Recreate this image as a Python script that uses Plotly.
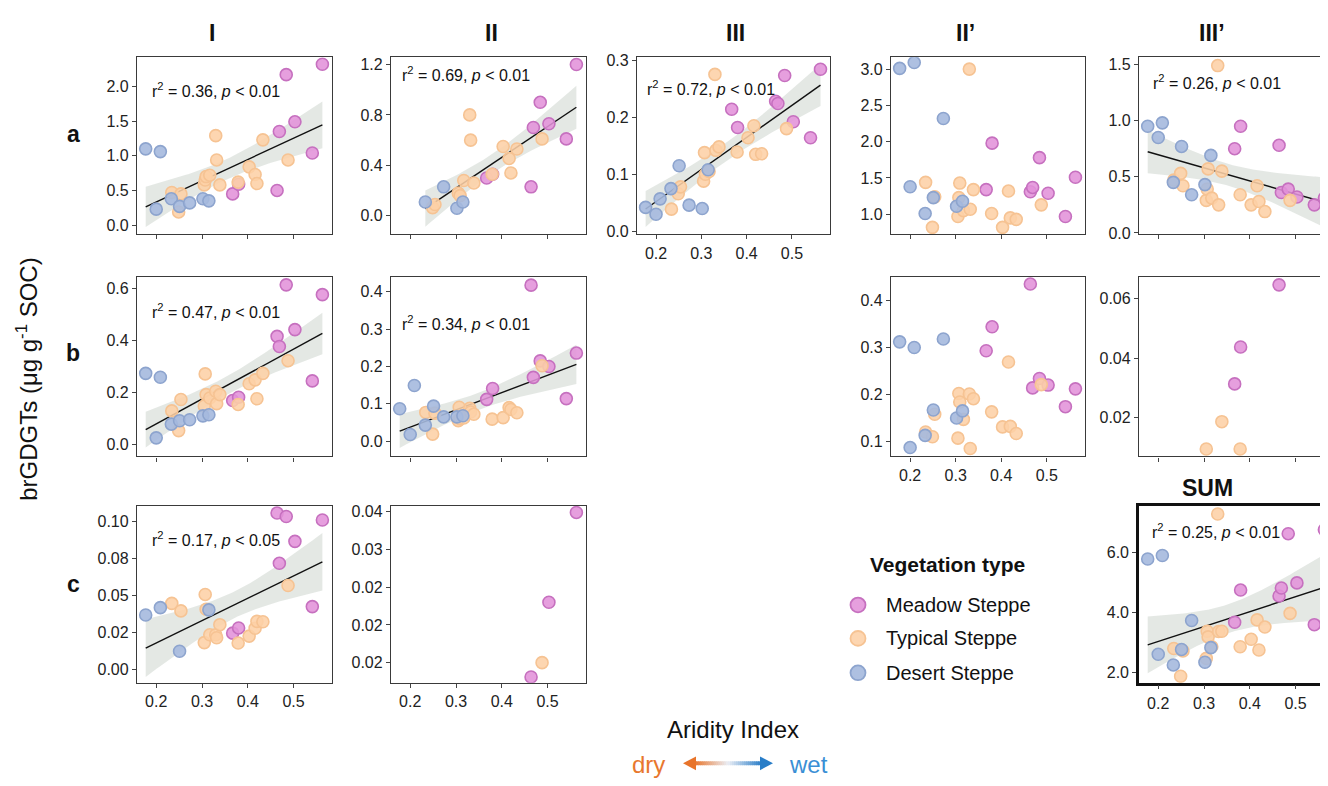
import numpy as np
import plotly.graph_objects as go

N = None
# ---------------- data ----------------
# aridity index of the sampling sites, per vegetation type
AI_DESERT = [0.177, 0.200, 0.209, 0.233, 0.251, 0.273, 0.302, 0.315]
AI_TYPICAL = [0.234, 0.249, 0.254, 0.305, 0.307, 0.309, 0.317, 0.330,
              0.332, 0.339, 0.379, 0.403, 0.416, 0.420, 0.433, 0.488]
AI_MEADOW = [0.367, 0.380, 0.464, 0.469, 0.484, 0.503, 0.541, 0.563]

X_TICKS = [0.2, 0.3, 0.4, 0.5]
X_TICK_LABELS = ["0.2", "0.3", "0.4", "0.5"]

# brGDGT concentrations (ug g-1 SOC)
aI_desert = [1.10, 0.23, 1.06, 0.38, 0.27, 0.32, 0.38, 0.35]
aI_typical = [0.47, 0.19, 0.45, 0.58, 0.65, 0.70, 0.72, 1.29, 0.94, 0.58, 0.62, 0.84, 0.73, 0.60, 1.23, 0.94]
aI_meadow = [0.45, 0.59, 0.50, 1.35, 2.17, 1.49, 1.04, 2.32]

aII_desert = [N, N, N, 0.11, N, 0.23, 0.06, 0.11]
aII_typical = [N, 0.065, 0.09, 0.18, N, 0.16, 0.28, 0.80, 0.60, 0.26, 0.33, 0.55, 0.455, 0.34, 0.53, 0.61]
aII_meadow = [0.30, 0.33, 0.23, 0.70, 0.90, 0.73, 0.61, 1.20]

aIII_desert = [0.042, 0.030, 0.057, 0.075, 0.115, 0.046, 0.040, 0.108]
aIII_typical = [0.039, 0.066, 0.078, 0.088, 0.138, 0.100, 0.105, 0.275, 0.142, 0.148, 0.139, 0.164, 0.185, 0.135, 0.136, 0.180]
aIII_meadow = [0.214, 0.182, 0.228, 0.224, 0.273, 0.192, 0.164, 0.284]

aIIp_desert = [3.01, 1.38, 3.09, 1.01, 1.23, 2.32, 1.11, 1.18]
aIIp_typical = [1.44, 0.82, 1.24, 0.97, 1.23, 1.43, 1.05, 3.00, 1.07, 1.34, 1.01, 0.82, 1.32, 0.95, 0.93, 1.13]
aIIp_meadow = [1.34, 1.98, 1.31, 1.37, 1.78, 1.29, 0.97, 1.51]

aIIIp_desert = [0.95, 0.85, 0.98, 0.45, 0.77, 0.34, 0.43, 0.69]
aIIIp_typical = [0.47, 0.53, 0.42, 0.29, 0.39, 0.57, 0.31, 1.49, 0.25, 0.55, 0.34, 0.25, 0.42, 0.28, 0.19, 0.29]
aIIIp_meadow = [0.75, 0.95, 0.78, 0.36, 0.39, 0.32, 0.25, 0.31]

bI_desert = [0.273, 0.024, 0.258, 0.077, 0.090, 0.094, 0.109, 0.113]
bI_typical = [0.128, 0.052, 0.172, 0.147, 0.271, 0.191, 0.178, 0.204, 0.156, 0.191, 0.153, 0.233, 0.248, 0.175, 0.273, 0.322]
bI_meadow = [0.168, 0.181, 0.416, 0.377, 0.615, 0.442, 0.244, 0.577]

bII_desert = [0.087, 0.018, 0.149, 0.043, 0.094, 0.065, 0.065, 0.068]
bII_typical = [0.077, 0.019, 0.075, 0.055, 0.091, 0.060, 0.062, 0.088, 0.078, 0.072, 0.059, 0.063, 0.090, 0.085, 0.076, 0.202]
bII_meadow = [0.112, 0.141, 0.418, 0.171, 0.215, 0.200, 0.114, 0.236]

bIIp_desert = [0.312, 0.087, 0.300, 0.113, 0.167, 0.318, 0.150, 0.165]
bIIp_typical = [0.120, 0.110, 0.158, 0.107, 0.202, 0.184, 0.147, 0.201, 0.085, 0.191, 0.163, 0.131, 0.269, 0.132, 0.117, 0.221]
bIIp_meadow = [0.293, 0.344, 0.435, 0.214, 0.234, 0.220, 0.174, 0.212]

bIIIp_desert = [N] * 8
bIIIp_typical = [N, N, N, 0.0094, N, N, N, N, N, 0.0186, 0.0094, N, N, N, N, N]
bIIIp_meadow = [0.0313, 0.0437, 0.0646, N, N, N, N, N]

cI_desert = [0.037, N, 0.042, N, 0.0126, N, N, 0.0405]
cI_typical = [0.0449, N, 0.0398, 0.0184, 0.0509, 0.0409, 0.0237, 0.0237, 0.0217, 0.0305, 0.0181, 0.0228, 0.0281, 0.0327, 0.0325, 0.0569]
cI_meadow = [0.0248, 0.0283, 0.1058, 0.0719, 0.1035, 0.0867, 0.0427, 0.1011]

cII_desert = [N] * 8
cII_typical = [N] * 15 + [0.0200]
cII_meadow = [N, N, 0.0181, N, N, 0.0280, N, 0.0399]

sum_desert = [5.79, 2.60, 5.91, 2.24, 2.76, 3.73, 2.33, 2.82]
sum_typical = [2.79, 1.86, 2.71, 2.46, 3.37, 3.18, 2.85, 7.30, 3.36, 3.37, 2.85, 3.10, 3.75, 2.74, 3.51, 3.97]
sum_meadow = [3.67, 4.75, 4.55, 4.82, 6.64, 4.99, 3.59, 6.77]

# y tick values / labels per panel
aI_ticks = [0.0, 0.5, 1.0, 1.5, 2.0]; aI_labels = ["0.0", "0.5", "1.0", "1.5", "2.0"]
aII_ticks = [0.0, 0.4, 0.8, 1.2]; aII_labels = ["0.0", "0.4", "0.8", "1.2"]
aIII_ticks = [0.0, 0.1, 0.2, 0.3]; aIII_labels = ["0.0", "0.1", "0.2", "0.3"]
aIIp_ticks = [1.0, 1.5, 2.0, 2.5, 3.0]; aIIp_labels = ["1.0", "1.5", "2.0", "2.5", "3.0"]
aIIIp_ticks = [0.0, 0.5, 1.0, 1.5]; aIIIp_labels = ["0.0", "0.5", "1.0", "1.5"]
bI_ticks = [0.0, 0.2, 0.4, 0.6]; bI_labels = ["0.0", "0.2", "0.4", "0.6"]
bII_ticks = [0.0, 0.1, 0.2, 0.3, 0.4]; bII_labels = ["0.0", "0.1", "0.2", "0.3", "0.4"]
bIIp_ticks = [0.1, 0.2, 0.3, 0.4]; bIIp_labels = ["0.1", "0.2", "0.3", "0.4"]
bIIIp_ticks = [0.02, 0.04, 0.06]; bIIIp_labels = ["0.02", "0.04", "0.06"]
cI_ticks = [0.0, 0.025, 0.05, 0.075, 0.1]; cI_labels = ["0.00", "0.02", "0.05", "0.08", "0.10"]
cII_ticks = [0.02, 0.025, 0.03, 0.035, 0.04]; cII_labels = ["0.02", "0.02", "0.02", "0.03", "0.04"]
sum_ticks = [2.0, 4.0, 6.0]; sum_labels = ["2.0", "4.0", "6.0"]

# ---------------- layout helpers ----------------
OFF = 8  # the page body margin
W, H = 1328 - OFF, 786 - OFF
def px(x): return (x - OFF) / W
def py(y): return 1 - (y - OFF) / H

COL = {"I": (137, 332), "II": (391, 586), "III": (637, 830),
       "IIp": (891, 1085), "IIIp": (1139, 1328)}
ROW = {"a": (52, 232), "b": (275, 458), "c": (508, 688)}
X_RANGE = [0.158, 0.584]
X_RANGE_CUT = [0.158, 0.158 + (1328 - 1139) / (195 / (0.584 - 0.158))]

panels = [
    dict(col="I", row="a", d=aI_desert, t=aI_typical, m=aI_meadow, yr=[-0.132, 2.421], tv=aI_ticks, tt=aI_labels,
         xl=False, r2="0.36", p="0.01", txt=(150, 85)),
    dict(col="II", row="a", d=aII_desert, t=aII_typical, m=aII_meadow, yr=[-0.146, 1.257], tv=aII_ticks, tt=aII_labels,
         xl=False, r2="0.69", p="0.01", txt=(400, 69)),
    dict(col="III", row="a", d=aIII_desert, t=aIII_typical, m=aIII_meadow, yr=[-0.005, 0.305], tv=aIII_ticks, tt=aIII_labels,
         xl=True, r2="0.72", p="0.01", txt=(645, 83)),
    dict(col="IIp", row="a", d=aIIp_desert, t=aIIp_typical, m=aIIp_meadow, yr=[0.725, 3.163], tv=aIIp_ticks, tt=aIIp_labels,
         xl=False, r2=None),
    dict(col="IIIp", row="a", d=aIIIp_desert, t=aIIIp_typical, m=aIIIp_meadow, yr=[-0.012, 1.564], tv=aIIIp_ticks, tt=aIIIp_labels,
         xl=False, r2="0.26", p="0.01", txt=(1151, 77)),
    dict(col="I", row="b", d=bI_desert, t=bI_typical, m=bI_meadow, yr=[-0.048, 0.647], tv=bI_ticks, tt=bI_labels,
         xl=False, r2="0.47", p="0.01", txt=(150, 310)),
    dict(col="II", row="b", d=bII_desert, t=bII_typical, m=bII_meadow, yr=[-0.041, 0.441], tv=bII_ticks, tt=bII_labels,
         xl=False, r2="0.34", p="0.01", txt=(400, 322)),
    dict(col="IIp", row="b", d=bIIp_desert, t=bIIp_typical, m=bIIp_meadow, yr=[0.068, 0.451], tv=bIIp_ticks, tt=bIIp_labels,
         xl=True, r2=None),
    dict(col="IIIp", row="b", d=bIIIp_desert, t=bIIIp_typical, m=bIIIp_meadow, yr=[0.0069, 0.0674], tv=bIIIp_ticks, tt=bIIIp_labels,
         xl=False, r2=None),
    dict(col="I", row="c", d=cI_desert, t=cI_typical, m=cI_meadow, yr=[-0.0086, 0.1108], tv=cI_ticks, tt=cI_labels,
         xl=True, r2="0.17", p="0.05", txt=(150, 542)),
    dict(col="II", row="c", d=cII_desert, t=cII_typical, m=cII_meadow, yr=[0.01735, 0.0408], tv=cII_ticks, tt=cII_labels,
         xl=True, r2=None),
    dict(col="IIIp", row="c", d=sum_desert, t=sum_typical, m=sum_meadow, yr=[1.647, 7.58], tv=sum_ticks, tt=sum_labels,
         xl=True, r2="0.25", p="0.01", txt=(1150, 534), bold=True),
]

STYLE = {
    "meadow": dict(fill="rgba(226,146,218,0.88)", line="#C670BF"),
    "typical": dict(fill="rgba(253,208,166,0.88)", line="#F6C393"),
    "desert": dict(fill="rgba(165,185,222,0.90)", line="#8DA4CE"),
}
FONT = "Arial, Liberation Sans, sans-serif"

def fit_band(xs, ys):
    x = np.array(xs, float); y = np.array(ys, float)
    n = len(x)
    b, a = np.polyfit(x, y, 1)
    xg = np.linspace(x.min(), x.max(), 80)
    yg = a + b * xg
    resid = y - (a + b * x)
    s = np.sqrt(np.sum(resid ** 2) / (n - 2))
    sxx = np.sum((x - x.mean()) ** 2)
    t = 1.96 + 2.4 / (n - 2)
    se = s * np.sqrt(1 / n + (xg - x.mean()) ** 2 / sxx)
    return xg, yg, yg - t * se, yg + t * se

fig = go.Figure()
layout = dict(width=W, height=H, margin=dict(l=0, r=0, t=0, b=0), autosize=False,
              paper_bgcolor="white", plot_bgcolor="white", showlegend=False,
              font=dict(family=FONT, color="#222"))
annotations = []
shapes = []

for i, p in enumerate(panels, start=1):
    xa = "x" if i == 1 else f"x{i}"
    ya = "y" if i == 1 else f"y{i}"
    x0, x1 = COL[p["col"]]
    y0, y1 = ROW[p["row"]]
    cut = p["col"] == "IIIp"
    lw = 2.6 if p.get("bold") else 1.3
    lc = "#111" if p.get("bold") else "#3a3a3a"
    layout["xaxis" if i == 1 else f"xaxis{i}"] = dict(
        domain=[px(x0), min(px(x1), 1.0)], range=X_RANGE_CUT if cut else X_RANGE, anchor=ya,
        showgrid=False, zeroline=False, showline=True, linecolor=lc, linewidth=lw, mirror=True,
        ticks="outside", ticklen=4, tickcolor="#444", tickvals=X_TICKS, ticktext=X_TICK_LABELS,
        showticklabels=p["xl"], tickfont=dict(size=16, family=FONT, color="#222"))
    layout["yaxis" if i == 1 else f"yaxis{i}"] = dict(
        domain=[py(y1), py(y0)], range=p["yr"], anchor=xa,
        showgrid=False, zeroline=False, showline=True, linecolor=lc, linewidth=lw,
        mirror=(not cut), ticks="outside", ticklen=4, tickcolor="#444",
        tickvals=p["tv"], ticktext=p["tt"], tickfont=dict(size=16, family=FONT, color="#222"))

    groups = [("meadow", AI_MEADOW, p["m"]), ("typical", AI_TYPICAL, p["t"]), ("desert", AI_DESERT, p["d"])]
    if p["r2"] is not None:
        allx, ally = [], []
        for _, xs, ys in groups:
            for xv, yv in zip(xs, ys):
                if yv is not None:
                    allx.append(xv); ally.append(yv)
        xg, yg, lo, hi = fit_band(allx, ally)
        fig.add_trace(go.Scatter(x=np.concatenate([xg, xg[::-1]]), y=np.concatenate([hi, lo[::-1]]),
                                 fill="toself", fillcolor="rgba(196,204,196,0.45)", line=dict(width=0),
                                 mode="lines", hoverinfo="skip", xaxis=xa, yaxis=ya))
        fig.add_trace(go.Scatter(x=xg, y=yg, mode="lines", line=dict(color="#111", width=1.4),
                                 hoverinfo="skip", xaxis=xa, yaxis=ya))
        tx, ty = p["txt"]
        annotations.append(dict(x=px(tx), y=py(ty), xref="paper", yref="paper", xanchor="left", yanchor="middle",
                                text=f"r<sup>2</sup> = {p['r2']}, <i>p</i> < {p['p']}", showarrow=False,
                                font=dict(size=16, family=FONT, color="#111")))
    for name, xs, ys in groups:
        xx = [xv for xv, yv in zip(xs, ys) if yv is not None]
        yy = [yv for yv in ys if yv is not None]
        if not xx:
            continue
        st = STYLE[name]
        fig.add_trace(go.Scatter(x=xx, y=yy, mode="markers", name=name,
                                 marker=dict(size=12, color=st["fill"], line=dict(color=st["line"], width=1.6)),
                                 xaxis=xa, yaxis=ya))

# column headers
for txt, x, y in [("I", 212, 27), ("II", 492, 27), ("III", 735, 27), ("II’", 965, 27), ("III’", 1212, 27), ("SUM", 1207, 490)]:
    annotations.append(dict(x=px(x), y=py(y), xref="paper", yref="paper", text=f"<b>{txt}</b>", showarrow=False,
                            xanchor="center", yanchor="middle", font=dict(size=23, family=FONT, color="#111")))
# row labels
for txt, y in [("a", 130), ("b", 353), ("c", 588)]:
    annotations.append(dict(x=px(73), y=py(y), xref="paper", yref="paper", text=f"<b>{txt}</b>", showarrow=False,
                            xanchor="center", yanchor="middle", font=dict(size=23, family=FONT, color="#111")))
# y title
annotations.append(dict(x=px(27), y=py(380), xref="paper", yref="paper", textangle=-90, showarrow=False,
                        text="brGDGTs (μg g<sup>-1</sup> SOC)", xanchor="center", yanchor="middle",
                        font=dict(size=24, family=FONT, color="#111")))
# x title
annotations.append(dict(x=px(733), y=py(736), xref="paper", yref="paper", showarrow=False, text="Aridity Index",
                        xanchor="center", yanchor="middle", font=dict(size=24, family=FONT, color="#111")))
annotations.append(dict(x=px(648), y=py(771), xref="paper", yref="paper", showarrow=False, text="dry",
                        xanchor="center", yanchor="middle", font=dict(size=24, family=FONT, color="#E8772E")))
annotations.append(dict(x=px(808), y=py(771), xref="paper", yref="paper", showarrow=False, text="wet",
                        xanchor="center", yanchor="middle", font=dict(size=24, family=FONT, color="#3A8FD5")))
# gradient double arrow
c_or = np.array([232, 116, 42]); c_wh = np.array([235, 238, 245]); c_bl = np.array([40, 125, 200])
ax0, ax1, ay = 694, 762, 770
nseg = 34
for k in range(nseg):
    f = (k + 0.5) / nseg
    c = c_or + (c_wh - c_or) * (f / 0.5) if f < 0.5 else c_wh + (c_bl - c_wh) * ((f - 0.5) / 0.5)
    xa0 = ax0 + (ax1 - ax0) * k / nseg
    xa1 = ax0 + (ax1 - ax0) * (k + 1) / nseg + 0.6
    shapes.append(dict(type="rect", xref="paper", yref="paper", x0=px(xa0), x1=px(xa1),
                       y0=py(ay + 2), y1=py(ay - 2), line=dict(width=0),
                       fillcolor=f"rgb({int(c[0])},{int(c[1])},{int(c[2])})"))
shapes.append(dict(type="path", xref="paper", yref="paper",
                   path=f"M {px(683)} {py(ay)} L {px(696)} {py(ay-7)} L {px(696)} {py(ay+7)} Z",
                   fillcolor="rgb(232,116,42)", line=dict(width=0)))
shapes.append(dict(type="path", xref="paper", yref="paper",
                   path=f"M {px(773)} {py(ay)} L {px(760)} {py(ay-7)} L {px(760)} {py(ay+7)} Z",
                   fillcolor="rgb(40,125,200)", line=dict(width=0)))

# legend (manual)
annotations.append(dict(x=px(868), y=py(568), xref="paper", yref="paper", showarrow=False, text="<b>Vegetation type</b>",
                        xanchor="left", yanchor="middle", font=dict(size=21, family=FONT, color="#111")))
for label, key, y in [("Meadow Steppe", "meadow", 609), ("Typical Steppe", "typical", 643), ("Desert Steppe", "desert", 678)]:
    st = STYLE[key]
    r = 7.5
    shapes.append(dict(type="circle", xref="paper", yref="paper", x0=px(858 - r), x1=px(858 + r),
                       y0=py(y + r), y1=py(y - r), fillcolor=st["fill"], line=dict(color=st["line"], width=1.8)))
    annotations.append(dict(x=px(884), y=py(y), xref="paper", yref="paper", showarrow=False, text=label,
                            xanchor="left", yanchor="middle", font=dict(size=20, family=FONT, color="#111")))

layout["annotations"] = annotations
layout["shapes"] = shapes
fig.update_layout(**layout)
fig.write_html("out.html")
